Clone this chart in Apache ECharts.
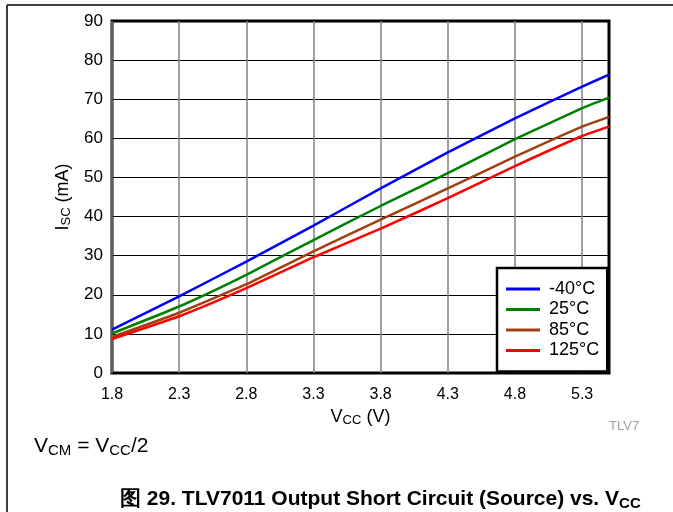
<!DOCTYPE html>
<html>
<head>
<meta charset="utf-8">
<script src="https://cdn.jsdelivr.net/npm/echarts@6/dist/echarts.min.js"></script>
<style>
html,body{margin:0;padding:0;background:#fff;}
#chart{width:673px;height:512px;}
</style>
</head>
<body>
<div id="chart"></div>
<script>
const vcc = [1.8, 2.3, 2.8, 3.3, 3.8, 4.3, 4.8, 5.3, 5.5];
const isc_m40 = [11.1, 19.6, 28.5, 37.7, 47.2, 56.4, 65.1, 73.2, 76.3];
const isc_25 = [10.1, 17.0, 25.1, 34.0, 42.7, 51.1, 59.8, 67.7, 70.4];
const isc_85 = [9.2, 15.4, 22.7, 31.1, 39.2, 47.2, 55.3, 63.0, 65.5];
const isc_125 = [8.7, 14.5, 21.7, 29.6, 36.9, 44.7, 52.9, 60.6, 63.0];
const seriesNames = ['-40°C', '25°C', '85°C', '125°C'];
const seriesColors = ['#0000ff', '#008000', '#a0400f', '#ff0000'];
const xTicks = [1.8, 2.3, 2.8, 3.3, 3.8, 4.3, 4.8, 5.3];

const allData = [isc_m40, isc_25, isc_85, isc_125];
const FONT = 'Liberation Sans, Arial, sans-serif';

const chart = echarts.init(document.getElementById('chart'), null, {renderer: 'canvas'});
const nameRich = {
  n: {fontSize: 18, fontFamily: FONT, color: '#000'},
  s: {fontSize: 13, fontFamily: FONT, color: '#000', verticalAlign: 'bottom', padding: [7, 0, 0, 0]}
};

chart.setOption({
  animation: false,
  backgroundColor: '#fff',
  textStyle: {fontFamily: FONT},
  grid: {left: 112, top: 21, right: 64, bottom: 139, show: true, borderColor: '#000', borderWidth: 3, backgroundColor: 'transparent', containLabel: false},
  xAxis: {
    type: 'value', min: 1.8, max: 5.5,
    axisLine: {show: false},
    axisTick: {show: false, customValues: xTicks},
    axisLabel: {customValues: xTicks, fontSize: 16, color: '#000', margin: 14, fontFamily: FONT,
      formatter: v => v.toFixed(1)},
    splitLine: {show: true, lineStyle: {color: '#808080', width: 1.5}},
    name: '{n|V}{s|CC}{n| (V)}',
    nameLocation: 'middle', nameGap: 31,
    nameTextStyle: {rich: nameRich}
  },
  yAxis: {
    type: 'value', min: 0, max: 90, interval: 10,
    axisLine: {show: false},
    axisTick: {show: false},
    axisLabel: {fontSize: 17, color: '#000', margin: 9, fontFamily: FONT},
    splitLine: {show: true, lineStyle: {color: '#000', width: 1}},
    name: '{n|I}{s|SC}{n| (mA)}',
    nameLocation: 'middle', nameGap: 38, nameRotate: 90,
    nameTextStyle: {rich: nameRich}
  },
  legend: {
    data: seriesNames,
    orient: 'vertical',
    left: 497, top: 268,
    padding: [12, 8, 12, 9],
    itemGap: 2.5,
    itemWidth: 34, itemHeight: 3,
    icon: 'rect',
    backgroundColor: '#fff',
    borderColor: '#000', borderWidth: 2.5,
    borderRadius: 0,
    textStyle: {fontSize: 18, color: '#000', fontFamily: FONT, padding: [0, 0, 0, 4]}
  },
  title: [
    {text: '图 29. TLV7011 Output Short Circuit (Source) vs. V{s|CC}', left: 115, top: 483,
      textStyle: {fontSize: 21, fontWeight: 'bold', color: '#000', fontFamily: FONT,
        rich: {s: {fontSize: 15, fontWeight: 'bold', fontFamily: FONT, color: '#000', verticalAlign: 'bottom', padding: [8, 0, 0, 0]}}}},
    {text: 'V{s|CM} = V{s|CC}/2', left: 29, top: 430,
      textStyle: {fontSize: 21, fontWeight: 'normal', color: '#000', fontFamily: FONT,
        rich: {s: {fontSize: 15, fontFamily: FONT, color: '#000', verticalAlign: 'bottom', padding: [8, 0, 0, 0]}}}},
    {text: 'TLV7', left: 604, top: 415,
      textStyle: {fontSize: 13, fontWeight: 'normal', color: '#a0a0a0', fontFamily: FONT}}
  ],
  graphic: [
    {type: 'line', shape: {x1: 7, y1: 5, x2: 673, y2: 5}, style: {stroke: '#000', lineWidth: 1.5}, silent: true},
    {type: 'line', shape: {x1: 7, y1: 5, x2: 7, y2: 512}, style: {stroke: '#000', lineWidth: 1.5}, silent: true}
  ],
  series: seriesNames.map((name, i) => ({
    name: name,
    type: 'line',
    data: vcc.map((x, k) => [x, allData[i][k]]),
    showSymbol: false,
    symbol: 'none',
    smooth: 0.15,
    lineStyle: {color: seriesColors[i], width: 2.5},
    itemStyle: {color: seriesColors[i]},
    z: 3
  }))
});
</script>
</body>
</html>
